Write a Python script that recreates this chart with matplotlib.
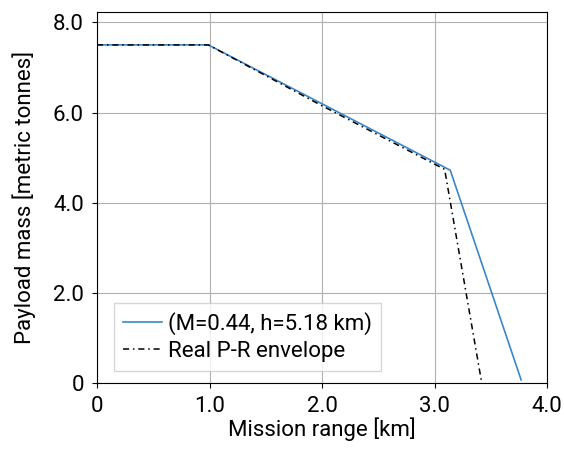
import matplotlib
matplotlib.use("Agg")
import matplotlib.pyplot as plt

plt.rcParams['font.family'] = ['Roboto', 'DejaVu Sans']

model_range = [0.0, 0.99, 3.14, 3.77]
model_payload = [7.5, 7.5, 4.72, 0.07]
real_range = [0.0, 0.99, 2.0, 3.09, 3.42]
real_payload = [7.5, 7.5, 6.15, 4.74, 0.0]

xticks = [0, 1.0, 2.0, 3.0, 4.0]
xlabels = ["0", "1.0", "2.0", "3.0", "4.0"]
yticks = [0, 2.0, 4.0, 6.0, 8.0]
ylabels = ["0", "2.0", "4.0", "6.0", "8.0"]

fig = plt.figure(figsize=(5.64, 4.5), dpi=100)
ax = fig.add_axes([97/564, 1-383/450, 450/564, 371/450])
ax.plot(model_range, model_payload, color='#3a87c8', lw=1.2, label='(M=0.44, h=5.18 km)')
ax.plot(real_range, real_payload, color='black', lw=1.1, ls=(0, (4, 2.5, 1, 2.5)),
        label='Real P-R envelope')
ax.set_xlim(0, 4.0)
ax.set_ylim(0, 8.23)
ax.set_xticks(xticks)
ax.set_xticklabels(xlabels)
ax.set_yticks(yticks)
ax.set_yticklabels(ylabels)
ax.tick_params(labelsize=16, pad=6)
ax.grid(True, color='#b0b0b0', lw=0.8)
ax.set_xlabel('Mission range [km]', fontsize=16, labelpad=0)
ax.set_ylabel('Payload mass [metric tonnes]', fontsize=16, labelpad=12)
leg = ax.legend(loc='lower left', fontsize=16, fancybox=False, framealpha=0.8,
                handlelength=1.75, handletextpad=0.27, borderpad=0.4,
                labelspacing=0.3, borderaxespad=0,
                bbox_to_anchor=(0.038, 0.032))
leg.get_frame().set_edgecolor('#cccccc')
fig.savefig('out.png', dpi=100)
